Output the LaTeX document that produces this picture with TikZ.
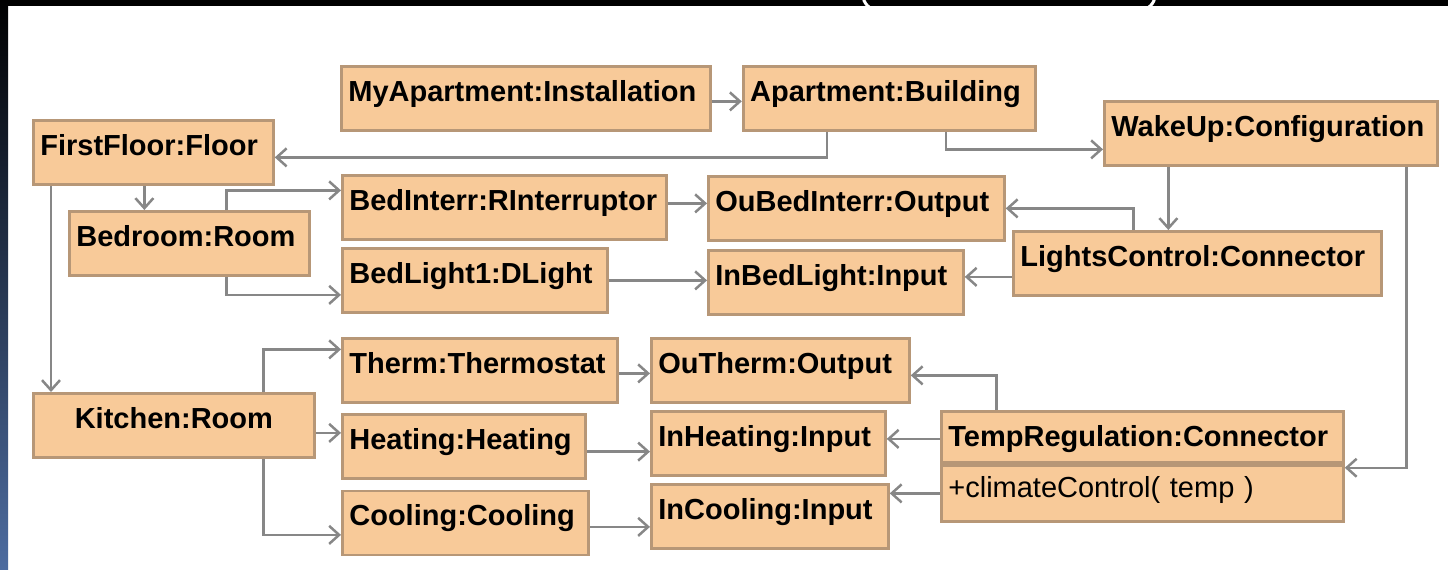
\documentclass[tikz,border=0pt]{standalone}
\usepackage{fontspec}
\setmainfont{Liberation Sans}
\usetikzlibrary{arrows.meta,positioning}

\definecolor{objfill}{HTML}{F8CA99}
\definecolor{objline}{HTML}{B79777}
\definecolor{linkgray}{HTML}{878787}
\definecolor{stripblue}{HTML}{4D6CA0}

\begin{document}
\begin{tikzpicture}[
    x=0.2mm, y=-0.2mm,
    every node/.style={font=\fontsize{16.5}{18}\selectfont\bfseries},
    obj/.style={draw=objline, line width=0.55mm, fill=objfill, anchor=north west, align=left, inner xsep=1.4mm, inner ysep=0pt, text height=7mm, text depth=5.8mm},
    link/.style={-{Straight Barb[length=2mm, width=3.6mm]}, draw=linkgray, line width=0.5mm}
]
\useasboundingbox (0,0) rectangle (1448,569);
\fill[white] (0,0) rectangle (1448,569);
\fill[black] (0,0) rectangle (1448,6);
\shade[top color=black, bottom color=stripblue] (0,0) rectangle (8,569);
\draw[white, line width=0.6mm, rounded corners=3mm] (863,-30) rectangle (1155,10);

% building, floor and configuration
\node[obj, text width=71mm] (inst) at (340,65) {MyApartment:Installation};
\node[obj, text width=55.6mm, right=6mm of inst] (bldg) {Apartment:Building};
\node[obj, text width=63.8mm] (wake) at (1103,100) {WakeUp:Configuration};
\node[obj, text width=45.2mm] (floor) at (32,119) {FirstFloor:Floor};

% bedroom
\node[obj, text width=45.2mm] (bedroom) at (68,210) {Bedroom:Room};
\node[obj, text width=62mm] (interr) at (341,174) {BedInterr:RInterruptor};
\node[obj, text width=56.4mm] (ouinterr) at (707,175) {OuBedInterr:Output};
\node[obj, text width=70.8mm] (lights) at (1012,230) {LightsControl:Connector};
\node[obj, text width=50.2mm] (bedlight) at (341,247) {BedLight1:DLight};
\node[obj, text width=48.2mm] (inbedlight) at (707,249) {InBedLight:Input};

% kitchen
\node[obj, text width=52.2mm] (therm) at (341,337) {Therm:Thermostat};
\node[obj, text width=48.8mm] (outherm) at (650,337) {OuTherm:Output};
\node[obj, text width=53.4mm, align=center] (kitchen) at (32,392) {Kitchen:Room};
\node[obj, text width=45.8mm, below=1.8mm of therm.south west, anchor=north west] (heating) {Heating:Heating};
\node[obj, text width=44mm] (inheating) at (650,410) {InHeating:Input};
\node[obj, text width=77.6mm, text depth=3.2mm] (tempreg) at (940,410) {TempRegulation:Connector};
\node[obj, text width=77.6mm, text height=6.4mm, text depth=4.8mm, font=\fontsize{16.5}{18}\selectfont, below=0pt of tempreg] (tempops) {+climateControl( temp )};
\node[obj, text width=46.4mm, below=2mm of heating.south west, anchor=north west] (cooling) {Cooling:Cooling};
\node[obj, text width=44.6mm] (incooling) at (650,483) {InCooling:Input};

\draw[link] ([yshift=-0.6mm]inst.east) -- ([yshift=-0.6mm]bldg.west);
\draw[link] ([xshift=-12.4mm]bldg.south) |- ([yshift=-1mm]floor.east);
\draw[link] ([xshift=11.4mm]bldg.south) |- ([yshift=-3.2mm]wake.west);
\draw[link] ([xshift=-1.8mm]floor.south) -- ([xshift=-1.8mm]floor.south |- bedroom.north);
\draw[link] ([xshift=3.8mm]floor.south west) -- ([xshift=3.8mm]floor.south west |- kitchen.north);
\draw[link] ([xshift=7.4mm]bedroom.north) |- ([yshift=3.4mm]interr.west);
\draw[link] ([xshift=7.4mm]bedroom.south) |- ([yshift=-2.9mm]bedlight.west);
\draw[link] ([yshift=0.8mm]interr.east) -- ([yshift=0.8mm]interr.east -| ouinterr.west);
\draw[link] (bedlight.east) -- (bedlight.east -| inbedlight.west);
\draw[link] ([xshift=-5.8mm]lights.north |- wake.south) -- ([xshift=-5.8mm]lights.north);
\draw[link] ([xshift=-12.8mm]lights.north) |- (ouinterr.east);
\draw[link] ([yshift=-2.7mm]lights.west) -- ([yshift=-2.7mm]lights.west -| inbedlight.east);
\draw[link] ([xshift=27.1mm]wake.south) |- ([yshift=-0.8mm]tempops.north east);
\draw[link] ([xshift=17.9mm]kitchen.north) |- ([yshift=4.2mm]therm.west);
\draw[link] ([yshift=-1.5mm]kitchen.east) -- ([yshift=-1.5mm]kitchen.east -| heating.west);
\draw[link] ([xshift=17.9mm]kitchen.south) |- ([yshift=-2.4mm]cooling.west);
\draw[link] ([yshift=-0.6mm]therm.east) -- ([yshift=-0.6mm]therm.east -| outherm.west);
\draw[link] ([yshift=-1.1mm]heating.east) -- ([yshift=-1.1mm]heating.east -| inheating.west);
\draw[link] ([yshift=-0.8mm]cooling.east) -- ([yshift=-0.8mm]cooling.east -| incooling.west);
\draw[link] ([xshift=-29.2mm]tempreg.north) |- ([yshift=-1mm]outherm.east);
\draw[link] ([yshift=0.9mm]inheating.east -| tempreg.west) -- ([yshift=0.9mm]inheating.east);
\draw[link] ([yshift=4.6mm]incooling.east -| tempops.west) -- ([yshift=4.6mm]incooling.east);
\end{tikzpicture}
\end{document}
